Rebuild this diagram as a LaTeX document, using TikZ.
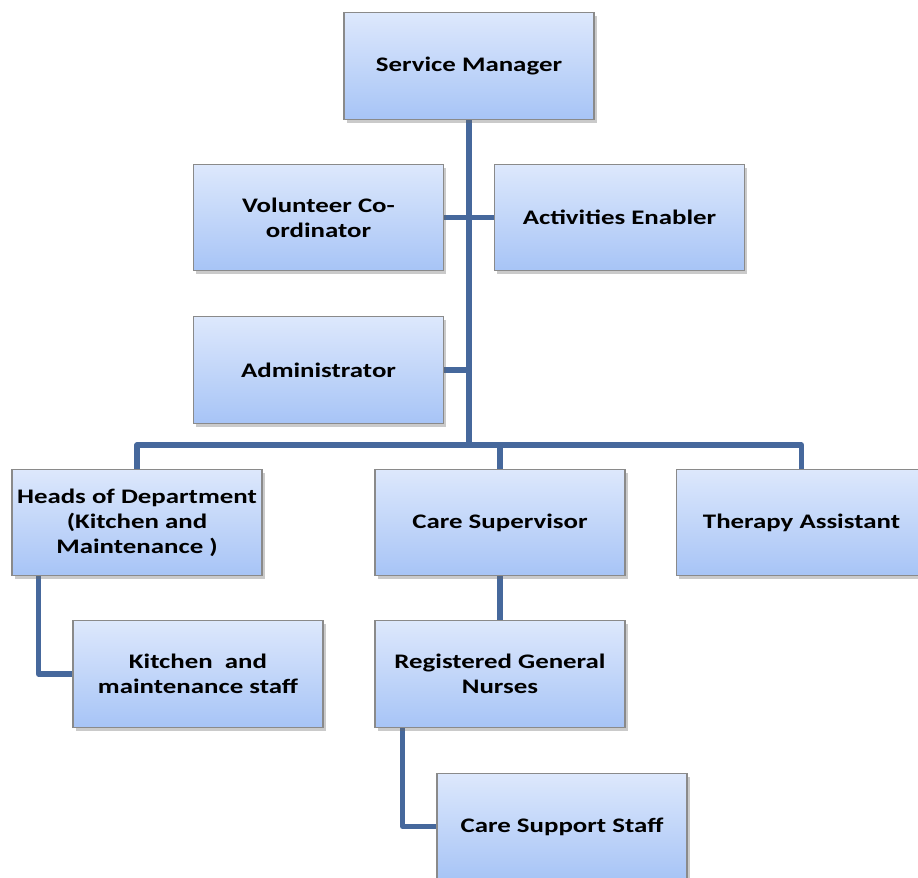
\documentclass[tikz,border=0pt]{standalone}
\usepackage{fontspec}
\newfontfamily\orgfont{Carlito}[FakeStretch=1.3]
\usetikzlibrary{shadows,backgrounds}
\definecolor{boxtop}{HTML}{DDE8FC}
\definecolor{boxbottom}{HTML}{A7C4F6}
\definecolor{boxline}{HTML}{8A8A8A}
\definecolor{linkblue}{HTML}{46689C}
\tikzset{
  orgbox/.style={draw=boxline, line width=0.8pt, top color=boxtop, bottom color=boxbottom,
    minimum width=187.5pt, minimum height=80pt, align=center, inner sep=2pt,
    font=\orgfont\bfseries\fontsize{15.5}{18.75}\selectfont,
    drop shadow={shadow xshift=2pt, shadow yshift=-2.5pt, opacity=0.35, fill=black!60}},
  link/.style={draw=linkblue, line width=3.8pt, line join=round}
}
\begin{document}
\begin{tikzpicture}[x=0.75pt, y=-0.75pt]
        \useasboundingbox (0, 0) rectangle (918, 878);
        % boxes
        \path (469, 66)      node[orgbox] (mgr)   {Service Manager};
        \path (318.5, 217.5) node[orgbox] (vol)   {Volunteer Co-\\ordinator};
        \path (619.5, 217.5) node[orgbox] (act)   {Activities Enabler};
        \path (318.5, 370)   node[orgbox] (adm)   {Administrator};
        \path (137, 522.5)   node[orgbox] (heads) {Heads of Department\\(Kitchen and\\Maintenance )};
        \path (500, 522.5)   node[orgbox] (sup)   {Care Supervisor};
        \path (801.5, 522.5) node[orgbox] (ther)  {Therapy Assistant};
        \path (198, 674)     node[orgbox] (kit)   {Kitchen~ and\\maintenance staff};
        \path (500, 674)     node[orgbox] (rgn)   {Registered General\\Nurses};
        \path (562, 826.5)   node[orgbox] (css)   {Care Support Staff};
        \coordinate (hub) at (469, 445);

        % connectors behind the boxes
        \begin{scope}[on background layer]
        \draw[link] (mgr.south) -- (hub);
        \draw[link] (heads.north) |- (hub) -| (ther.north);
        \draw[link] (hub -| sup.north) -- (sup.north);
        \draw[link] (vol.east) -- (act.west);
        \draw[link] (adm.east) -- (adm.east -| hub);
        \draw[link] (sup.south) -- (rgn.north);
        \draw[link] ([xshift=20.25pt]heads.south west) |- (kit.west);
        \draw[link] ([xshift=21pt]rgn.south west) |- (css.west);
        \end{scope}
    \end{tikzpicture}
\end{document}
